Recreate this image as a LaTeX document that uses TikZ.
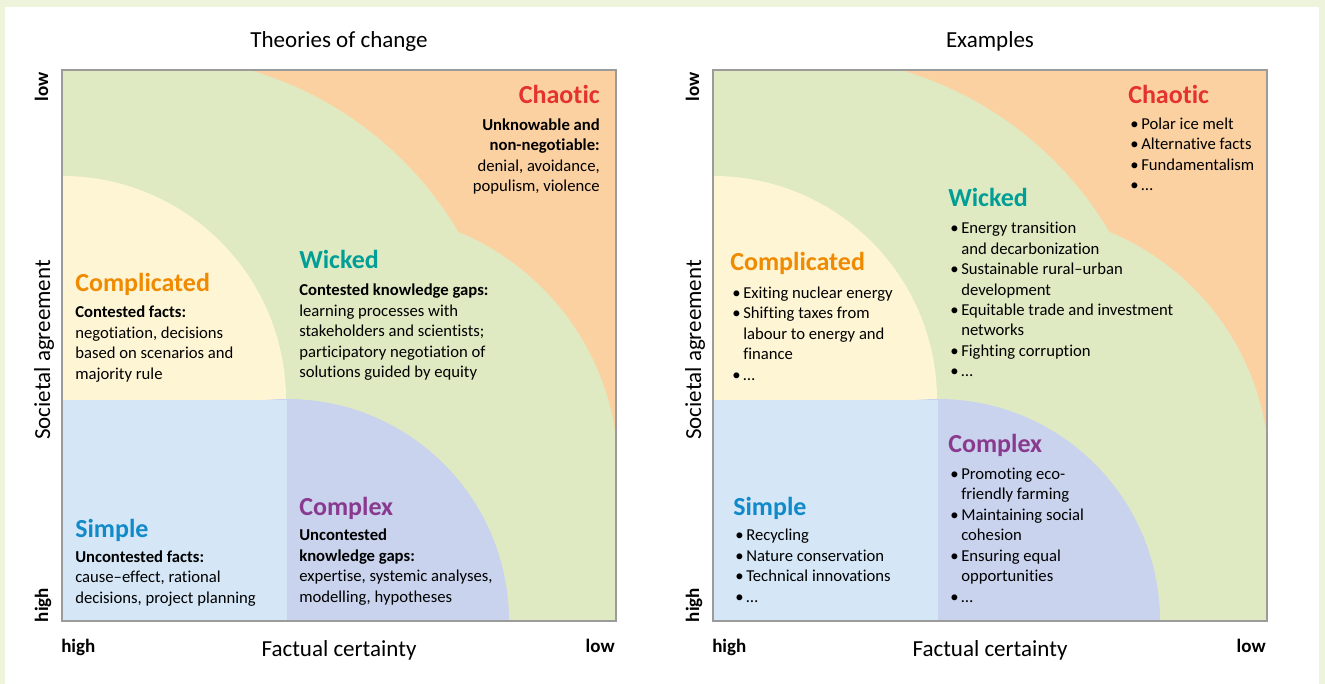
\documentclass[tikz,border=0pt]{standalone}
\usepackage{fontspec}
\setmainfont{Carlito}[Ligatures={TeX,NoCommon}]

\definecolor{pagebg}{RGB}{238,243,220}
\definecolor{framecol}{RGB}{155,155,155}
\definecolor{wickedfill}{RGB}{224,234,194}
\definecolor{chaoticfill}{RGB}{251,209,161}
\definecolor{complicatedfill}{RGB}{254,245,213}
\definecolor{simplefill}{RGB}{213,231,247}
\definecolor{complexfill}{RGB}{201,211,237}
\definecolor{chaoticcol}{RGB}{228,50,45}
\definecolor{complicatedcol}{RGB}{240,138,0}
\definecolor{wickedcol}{RGB}{0,158,150}
\definecolor{simplecol}{RGB}{16,138,200}
\definecolor{complexcol}{RGB}{137,58,143}

% bullet with hanging indent for the example lists
\newcommand\lbul{\makebox[8.25pt][l]{\textbullet}}
\newcommand\lind{\hspace*{8.25pt}}

\begin{document}
\begin{tikzpicture}[x=0.75pt,y=-0.75pt,
    heading/.style={font=\fontsize{19.5}{22}\selectfont\bfseries, inner sep=0, anchor=base west},
    % body texts are placed by the baseline of their last line
    body/.style={font=\fontsize{12.5}{15.375}\selectfont, align=left, inner sep=0, anchor=base west},
    axislabel/.style={font=\fontsize{17.25}{20}\selectfont, inner sep=0, anchor=base},
    endlabel/.style={font=\fontsize{14.25}{16}\selectfont\bfseries, inner sep=0, anchor=base}]
  \useasboundingbox (0,0) rectangle (1325,684);
  \fill[pagebg] (0,0) rectangle (1325,684);
  \fill[white] (5,7) rectangle (1319,684);

  % the two charts share the same regions
  \foreach \ox/\nm in {62/L,713/R}{
    \begin{scope}[shift={(\ox,70)}]
      \fill[chaoticfill] (0,0) rectangle (554,551);
      \begin{scope}
        \clip (0,0) rectangle (554,551);
        \fill[wickedfill] (88,344) circle[radius=358];
        \fill[wickedfill] (297.5,401) circle[radius=258.6];
        \fill[wickedfill] (0,401) rectangle (554,551);
        \fill[complicatedfill] (0,330) circle[radius=224];
        \fill[complexfill] (225,551) circle[radius=222];
        \fill[simplefill] (0,330) rectangle (225,551);
      \end{scope}
      \draw[framecol, line width=1.5] (0,0) rectangle (554,551);
      \node[endlabel, rotate=90] (ylow\nm) at (-14,17) {low};
      \node[axislabel, rotate=90] (yaxis\nm) at (-12,280) {Societal agreement};
      \node[endlabel, rotate=90] (yhigh\nm) at (-14,535) {high};
      \node[endlabel, anchor=base west] (xhigh\nm) at (-1,582) {high};
      \node[axislabel] (xaxis\nm) at (277,586) {Factual certainty};
      \node[endlabel, anchor=base east] (xlow\nm) at (553,582) {low};
    \end{scope}
  }

  \node[axislabel] (titleL) at (339,48) {Theories of change};
  \node[axislabel] (titleR) at (990,48) {Examples};

  % theories of change
  \node[heading, text=chaoticcol, anchor=base east] (chaoticL) at (600,104) {Chaotic};
  \node[body, align=right, anchor=base east] (chaoticLtxt) at (600,192)
    {\textbf{Unknowable and}\\\textbf{non-negotiable:}\\denial, avoidance,\\populism, violence};
  \node[heading, text=wickedcol] (wickedL) at (299,269) {Wicked};
  \node[body] (wickedLtxt) at (299,378)
    {\textbf{Contested knowledge gaps:}\\learning processes with\\stakeholders and scientists;\\participatory negotiation of\\solutions guided by equity};
  \node[heading, text=complicatedcol] (complicatedL) at (75,292) {Complicated};
  \node[body] (complicatedLtxt) at (75,379)
    {\textbf{Contested facts:}\\negotiation, decisions\\based on scenarios and\\majority rule};
  \node[heading, text=simplecol] (simpleL) at (75,537) {Simple};
  \node[body] (simpleLtxt) at (75,603)
    {\textbf{Uncontested facts:}\\cause--effect, rational\\decisions, project planning};
  \node[heading, text=complexcol] (complexL) at (299,515) {Complex};
  \node[body] (complexLtxt) at (299,602)
    {\textbf{Uncontested}\\\textbf{knowledge gaps:}\\expertise, systemic analyses,\\modelling, hypotheses};

  % examples
  \node[heading, text=chaoticcol] (chaoticR) at (1128,104) {Chaotic};
  \node[body] (chaoticRtxt) at (1130,191)
    {\lbul Polar ice melt\\\lbul Alternative facts\\\lbul Fundamentalism\\\lbul\dots};
  \node[heading, text=wickedcol] (wickedR) at (948,207) {Wicked};
  \node[body] (wickedRtxt) at (950,377)
    {\lbul Energy transition\\\lind and decarbonization\\\lbul Sustainable rural--urban\\\lind development\\\lbul Equitable trade and investment\\\lind networks\\\lbul Fighting corruption\\\lbul\dots};
  \node[heading, text=complicatedcol] (complicatedR) at (730,271) {Complicated};
  \node[body] (complicatedRtxt) at (732,380)
    {\lbul Exiting nuclear energy\\\lbul Shifting taxes from\\\lind labour to energy and\\\lind finance\\\lbul\dots};
  \node[heading, text=simplecol] (simpleR) at (733,515) {Simple};
  \node[body] (simpleRtxt) at (735,602)
    {\lbul Recycling\\\lbul Nature conservation\\\lbul Technical innovations\\\lbul\dots};
  \node[heading, text=complexcol] (complexR) at (948,452) {Complex};
  \node[body] (complexRtxt) at (950,602)
    {\lbul Promoting eco-\\\lind friendly farming\\\lbul Maintaining social\\\lind cohesion\\\lbul Ensuring equal\\\lind opportunities\\\lbul\dots};
\end{tikzpicture}
\end{document}
